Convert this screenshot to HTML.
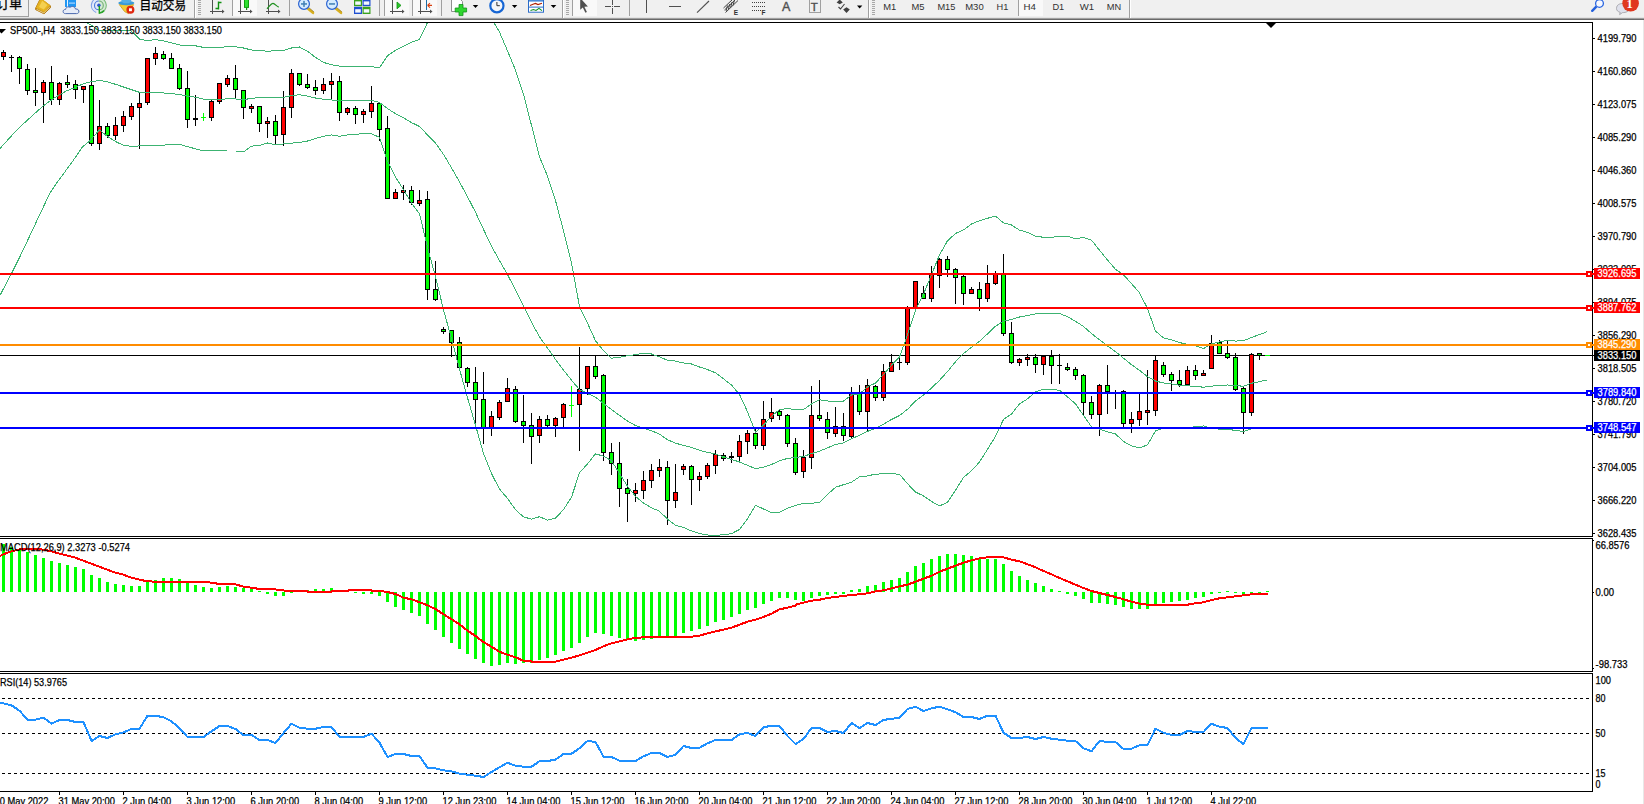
<!DOCTYPE html>
<html><head><meta charset="utf-8"><title>SP500 H4</title>
<style>html,body{margin:0;padding:0;background:#fff;overflow:hidden}svg{display:block}text{white-space:pre}</style></head><body>
<svg width="1644" height="804" viewBox="0 0 1644 804">
<rect x="0" y="0" width="1644" height="804" fill="#fff"/>
<rect x="0" y="355" width="1594" height="1" fill="#000" shape-rendering="crispEdges"/>
<g shape-rendering="crispEdges">
<rect x="3" y="50" width="1" height="10" fill="#000"/>
<rect x="1" y="52" width="5" height="5" fill="#000"/>
<rect x="2" y="53" width="3" height="3" fill="#ff0000"/>
<rect x="11" y="55" width="1" height="17" fill="#000"/>
<rect x="9" y="57" width="5" height="1" fill="#000"/>
<rect x="19" y="56" width="1" height="28" fill="#000"/>
<rect x="17" y="57" width="5" height="12" fill="#000"/>
<rect x="18" y="58" width="3" height="10" fill="#00ff00"/>
<rect x="27" y="64" width="1" height="31" fill="#000"/>
<rect x="25" y="69" width="5" height="22" fill="#000"/>
<rect x="26" y="70" width="3" height="20" fill="#00ff00"/>
<rect x="35" y="68" width="1" height="38" fill="#000"/>
<rect x="33" y="90" width="5" height="3" fill="#000"/>
<rect x="34" y="91" width="3" height="1" fill="#00ff00"/>
<rect x="43" y="80" width="1" height="43" fill="#000"/>
<rect x="41" y="82" width="5" height="11" fill="#000"/>
<rect x="42" y="83" width="3" height="9" fill="#ff0000"/>
<rect x="51" y="66" width="1" height="39" fill="#000"/>
<rect x="49" y="82" width="5" height="18" fill="#000"/>
<rect x="50" y="83" width="3" height="16" fill="#00ff00"/>
<rect x="59" y="82" width="1" height="23" fill="#000"/>
<rect x="57" y="83" width="5" height="17" fill="#000"/>
<rect x="58" y="84" width="3" height="15" fill="#ff0000"/>
<rect x="67" y="75" width="1" height="13" fill="#000"/>
<rect x="65" y="82" width="5" height="3" fill="#000"/>
<rect x="66" y="83" width="3" height="1" fill="#00ff00"/>
<rect x="75" y="80" width="1" height="19" fill="#000"/>
<rect x="73" y="84" width="5" height="6" fill="#000"/>
<rect x="74" y="85" width="3" height="4" fill="#00ff00"/>
<rect x="83" y="86" width="1" height="17" fill="#000"/>
<rect x="81" y="86" width="5" height="4" fill="#000"/>
<rect x="82" y="87" width="3" height="2" fill="#ff0000"/>
<rect x="91" y="68" width="1" height="78" fill="#000"/>
<rect x="89" y="85" width="5" height="59" fill="#000"/>
<rect x="90" y="86" width="3" height="57" fill="#00ff00"/>
<rect x="99" y="100" width="1" height="50" fill="#000"/>
<rect x="97" y="126" width="5" height="18" fill="#000"/>
<rect x="98" y="127" width="3" height="16" fill="#ff0000"/>
<rect x="107" y="123" width="1" height="15" fill="#000"/>
<rect x="105" y="126" width="5" height="10" fill="#000"/>
<rect x="106" y="127" width="3" height="8" fill="#00ff00"/>
<rect x="115" y="117" width="1" height="23" fill="#000"/>
<rect x="113" y="125" width="5" height="11" fill="#000"/>
<rect x="114" y="126" width="3" height="9" fill="#ff0000"/>
<rect x="123" y="111" width="1" height="21" fill="#000"/>
<rect x="121" y="116" width="5" height="10" fill="#000"/>
<rect x="122" y="117" width="3" height="8" fill="#ff0000"/>
<rect x="131" y="103" width="1" height="17" fill="#000"/>
<rect x="129" y="106" width="5" height="11" fill="#000"/>
<rect x="130" y="107" width="3" height="9" fill="#ff0000"/>
<rect x="139" y="93" width="1" height="56" fill="#000"/>
<rect x="137" y="103" width="5" height="5" fill="#000"/>
<rect x="138" y="104" width="3" height="3" fill="#ff0000"/>
<rect x="147" y="58" width="1" height="47" fill="#000"/>
<rect x="145" y="58" width="5" height="45" fill="#000"/>
<rect x="146" y="59" width="3" height="43" fill="#ff0000"/>
<rect x="155" y="47" width="1" height="18" fill="#000"/>
<rect x="153" y="53" width="5" height="6" fill="#000"/>
<rect x="154" y="54" width="3" height="4" fill="#ff0000"/>
<rect x="163" y="51" width="1" height="9" fill="#000"/>
<rect x="161" y="54" width="5" height="5" fill="#000"/>
<rect x="162" y="55" width="3" height="3" fill="#00ff00"/>
<rect x="171" y="53" width="1" height="16" fill="#000"/>
<rect x="169" y="58" width="5" height="11" fill="#000"/>
<rect x="170" y="59" width="3" height="9" fill="#00ff00"/>
<rect x="179" y="64" width="1" height="26" fill="#000"/>
<rect x="177" y="68" width="5" height="21" fill="#000"/>
<rect x="178" y="69" width="3" height="19" fill="#00ff00"/>
<rect x="187" y="71" width="1" height="57" fill="#000"/>
<rect x="185" y="88" width="5" height="32" fill="#000"/>
<rect x="186" y="89" width="3" height="30" fill="#00ff00"/>
<rect x="195" y="95" width="1" height="31" fill="#000"/>
<rect x="193" y="118" width="5" height="2" fill="#000"/>
<rect x="203" y="113" width="1" height="8" fill="#00ff00"/>
<rect x="201" y="117" width="5" height="1" fill="#00ff00"/>
<rect x="211" y="100" width="1" height="21" fill="#000"/>
<rect x="209" y="101" width="5" height="17" fill="#000"/>
<rect x="210" y="102" width="3" height="15" fill="#ff0000"/>
<rect x="219" y="83" width="1" height="21" fill="#000"/>
<rect x="217" y="83" width="5" height="19" fill="#000"/>
<rect x="218" y="84" width="3" height="17" fill="#ff0000"/>
<rect x="227" y="75" width="1" height="12" fill="#000"/>
<rect x="225" y="78" width="5" height="7" fill="#000"/>
<rect x="226" y="79" width="3" height="5" fill="#ff0000"/>
<rect x="235" y="65" width="1" height="34" fill="#000"/>
<rect x="233" y="78" width="5" height="12" fill="#000"/>
<rect x="234" y="79" width="3" height="10" fill="#00ff00"/>
<rect x="243" y="90" width="1" height="29" fill="#000"/>
<rect x="241" y="90" width="5" height="18" fill="#000"/>
<rect x="242" y="91" width="3" height="16" fill="#00ff00"/>
<rect x="251" y="104" width="1" height="9" fill="#000"/>
<rect x="249" y="106" width="5" height="3" fill="#000"/>
<rect x="250" y="107" width="3" height="1" fill="#ff0000"/>
<rect x="259" y="106" width="1" height="26" fill="#000"/>
<rect x="257" y="106" width="5" height="18" fill="#000"/>
<rect x="258" y="107" width="3" height="16" fill="#00ff00"/>
<rect x="267" y="117" width="1" height="21" fill="#000"/>
<rect x="265" y="121" width="5" height="3" fill="#000"/>
<rect x="266" y="122" width="3" height="1" fill="#ff0000"/>
<rect x="275" y="115" width="1" height="29" fill="#000"/>
<rect x="273" y="121" width="5" height="15" fill="#000"/>
<rect x="274" y="122" width="3" height="13" fill="#00ff00"/>
<rect x="283" y="91" width="1" height="55" fill="#000"/>
<rect x="281" y="107" width="5" height="28" fill="#000"/>
<rect x="282" y="108" width="3" height="26" fill="#ff0000"/>
<rect x="291" y="69" width="1" height="49" fill="#000"/>
<rect x="289" y="73" width="5" height="35" fill="#000"/>
<rect x="290" y="74" width="3" height="33" fill="#ff0000"/>
<rect x="299" y="73" width="1" height="13" fill="#000"/>
<rect x="297" y="73" width="5" height="12" fill="#000"/>
<rect x="298" y="74" width="3" height="10" fill="#00ff00"/>
<rect x="307" y="74" width="1" height="15" fill="#000"/>
<rect x="305" y="84" width="5" height="4" fill="#000"/>
<rect x="306" y="85" width="3" height="2" fill="#00ff00"/>
<rect x="315" y="80" width="1" height="15" fill="#000"/>
<rect x="313" y="87" width="5" height="4" fill="#000"/>
<rect x="314" y="88" width="3" height="2" fill="#00ff00"/>
<rect x="323" y="78" width="1" height="16" fill="#000"/>
<rect x="321" y="84" width="5" height="7" fill="#000"/>
<rect x="322" y="85" width="3" height="5" fill="#ff0000"/>
<rect x="331" y="73" width="1" height="27" fill="#000"/>
<rect x="329" y="81" width="5" height="4" fill="#000"/>
<rect x="330" y="82" width="3" height="2" fill="#ff0000"/>
<rect x="339" y="76" width="1" height="45" fill="#000"/>
<rect x="337" y="81" width="5" height="32" fill="#000"/>
<rect x="338" y="82" width="3" height="30" fill="#00ff00"/>
<rect x="347" y="107" width="1" height="8" fill="#000"/>
<rect x="345" y="108" width="5" height="5" fill="#000"/>
<rect x="346" y="109" width="3" height="3" fill="#ff0000"/>
<rect x="355" y="106" width="1" height="18" fill="#000"/>
<rect x="353" y="108" width="5" height="7" fill="#000"/>
<rect x="354" y="109" width="3" height="5" fill="#00ff00"/>
<rect x="363" y="109" width="1" height="14" fill="#000"/>
<rect x="361" y="111" width="5" height="4" fill="#000"/>
<rect x="362" y="112" width="3" height="2" fill="#ff0000"/>
<rect x="371" y="86" width="1" height="32" fill="#000"/>
<rect x="369" y="103" width="5" height="9" fill="#000"/>
<rect x="370" y="104" width="3" height="7" fill="#ff0000"/>
<rect x="379" y="102" width="1" height="39" fill="#000"/>
<rect x="377" y="103" width="5" height="27" fill="#000"/>
<rect x="378" y="104" width="3" height="25" fill="#00ff00"/>
<rect x="387" y="116" width="1" height="82" fill="#000"/>
<rect x="385" y="128" width="5" height="71" fill="#000"/>
<rect x="386" y="129" width="3" height="69" fill="#00ff00"/>
<rect x="395" y="189" width="1" height="9" fill="#000"/>
<rect x="393" y="192" width="5" height="7" fill="#000"/>
<rect x="394" y="193" width="3" height="5" fill="#ff0000"/>
<rect x="403" y="185" width="1" height="15" fill="#000"/>
<rect x="401" y="190" width="5" height="3" fill="#000"/>
<rect x="402" y="191" width="3" height="1" fill="#ff0000"/>
<rect x="411" y="186" width="1" height="19" fill="#000"/>
<rect x="409" y="190" width="5" height="13" fill="#000"/>
<rect x="410" y="191" width="3" height="11" fill="#00ff00"/>
<rect x="419" y="190" width="1" height="16" fill="#000"/>
<rect x="417" y="200" width="5" height="4" fill="#000"/>
<rect x="418" y="201" width="3" height="2" fill="#ff0000"/>
<rect x="427" y="191" width="1" height="109" fill="#000"/>
<rect x="425" y="199" width="5" height="91" fill="#000"/>
<rect x="426" y="200" width="3" height="89" fill="#00ff00"/>
<rect x="435" y="261" width="1" height="40" fill="#000"/>
<rect x="433" y="289" width="5" height="11" fill="#000"/>
<rect x="434" y="290" width="3" height="9" fill="#00ff00"/>
<rect x="443" y="327" width="1" height="7" fill="#000"/>
<rect x="441" y="329" width="5" height="3" fill="#000"/>
<rect x="442" y="330" width="3" height="1" fill="#00ff00"/>
<rect x="451" y="330" width="1" height="27" fill="#000"/>
<rect x="449" y="330" width="5" height="13" fill="#000"/>
<rect x="450" y="331" width="3" height="11" fill="#00ff00"/>
<rect x="459" y="337" width="1" height="33" fill="#000"/>
<rect x="457" y="342" width="5" height="26" fill="#000"/>
<rect x="458" y="343" width="3" height="24" fill="#00ff00"/>
<rect x="467" y="367" width="1" height="20" fill="#000"/>
<rect x="465" y="368" width="5" height="15" fill="#000"/>
<rect x="466" y="369" width="3" height="13" fill="#00ff00"/>
<rect x="475" y="367" width="1" height="57" fill="#000"/>
<rect x="473" y="382" width="5" height="18" fill="#000"/>
<rect x="474" y="383" width="3" height="16" fill="#00ff00"/>
<rect x="483" y="372" width="1" height="72" fill="#000"/>
<rect x="481" y="399" width="5" height="30" fill="#000"/>
<rect x="482" y="400" width="3" height="28" fill="#00ff00"/>
<rect x="491" y="411" width="1" height="25" fill="#000"/>
<rect x="489" y="416" width="5" height="12" fill="#000"/>
<rect x="490" y="417" width="3" height="10" fill="#ff0000"/>
<rect x="499" y="400" width="1" height="20" fill="#000"/>
<rect x="497" y="402" width="5" height="16" fill="#000"/>
<rect x="498" y="403" width="3" height="14" fill="#ff0000"/>
<rect x="507" y="378" width="1" height="23" fill="#000"/>
<rect x="505" y="388" width="5" height="14" fill="#000"/>
<rect x="506" y="389" width="3" height="12" fill="#ff0000"/>
<rect x="515" y="386" width="1" height="37" fill="#000"/>
<rect x="513" y="389" width="5" height="33" fill="#000"/>
<rect x="514" y="390" width="3" height="31" fill="#00ff00"/>
<rect x="523" y="395" width="1" height="48" fill="#000"/>
<rect x="521" y="421" width="5" height="5" fill="#000"/>
<rect x="522" y="422" width="3" height="3" fill="#00ff00"/>
<rect x="531" y="413" width="1" height="51" fill="#000"/>
<rect x="529" y="425" width="5" height="12" fill="#000"/>
<rect x="530" y="426" width="3" height="10" fill="#00ff00"/>
<rect x="539" y="416" width="1" height="27" fill="#000"/>
<rect x="537" y="419" width="5" height="17" fill="#000"/>
<rect x="538" y="420" width="3" height="15" fill="#ff0000"/>
<rect x="547" y="415" width="1" height="12" fill="#000"/>
<rect x="545" y="419" width="5" height="7" fill="#000"/>
<rect x="546" y="420" width="3" height="5" fill="#00ff00"/>
<rect x="555" y="417" width="1" height="20" fill="#000"/>
<rect x="553" y="418" width="5" height="8" fill="#000"/>
<rect x="554" y="419" width="3" height="6" fill="#ff0000"/>
<rect x="563" y="403" width="1" height="24" fill="#000"/>
<rect x="561" y="404" width="5" height="14" fill="#000"/>
<rect x="562" y="405" width="3" height="12" fill="#ff0000"/>
<rect x="571" y="386" width="1" height="31" fill="#00ff00"/>
<rect x="569" y="405" width="5" height="1" fill="#00ff00"/>
<rect x="579" y="347" width="1" height="104" fill="#000"/>
<rect x="577" y="389" width="5" height="16" fill="#000"/>
<rect x="578" y="390" width="3" height="14" fill="#ff0000"/>
<rect x="587" y="366" width="1" height="29" fill="#000"/>
<rect x="585" y="366" width="5" height="23" fill="#000"/>
<rect x="586" y="367" width="3" height="21" fill="#ff0000"/>
<rect x="595" y="355" width="1" height="24" fill="#000"/>
<rect x="593" y="366" width="5" height="11" fill="#000"/>
<rect x="594" y="367" width="3" height="9" fill="#00ff00"/>
<rect x="603" y="374" width="1" height="87" fill="#000"/>
<rect x="601" y="375" width="5" height="78" fill="#000"/>
<rect x="602" y="376" width="3" height="76" fill="#00ff00"/>
<rect x="611" y="443" width="1" height="32" fill="#000"/>
<rect x="609" y="452" width="5" height="12" fill="#000"/>
<rect x="610" y="453" width="3" height="10" fill="#00ff00"/>
<rect x="619" y="442" width="1" height="65" fill="#000"/>
<rect x="617" y="463" width="5" height="26" fill="#000"/>
<rect x="618" y="464" width="3" height="24" fill="#00ff00"/>
<rect x="627" y="479" width="1" height="43" fill="#000"/>
<rect x="625" y="488" width="5" height="6" fill="#000"/>
<rect x="626" y="489" width="3" height="4" fill="#00ff00"/>
<rect x="635" y="483" width="1" height="19" fill="#000"/>
<rect x="633" y="490" width="5" height="4" fill="#000"/>
<rect x="634" y="491" width="3" height="2" fill="#ff0000"/>
<rect x="643" y="471" width="1" height="28" fill="#000"/>
<rect x="641" y="480" width="5" height="11" fill="#000"/>
<rect x="642" y="481" width="3" height="9" fill="#ff0000"/>
<rect x="651" y="464" width="1" height="24" fill="#000"/>
<rect x="649" y="470" width="5" height="11" fill="#000"/>
<rect x="650" y="471" width="3" height="9" fill="#ff0000"/>
<rect x="659" y="459" width="1" height="18" fill="#000"/>
<rect x="657" y="467" width="5" height="4" fill="#000"/>
<rect x="658" y="468" width="3" height="2" fill="#ff0000"/>
<rect x="667" y="461" width="1" height="64" fill="#000"/>
<rect x="665" y="467" width="5" height="34" fill="#000"/>
<rect x="666" y="468" width="3" height="32" fill="#00ff00"/>
<rect x="675" y="464" width="1" height="44" fill="#000"/>
<rect x="673" y="492" width="5" height="9" fill="#000"/>
<rect x="674" y="493" width="3" height="7" fill="#ff0000"/>
<rect x="683" y="464" width="1" height="11" fill="#000"/>
<rect x="681" y="466" width="5" height="4" fill="#000"/>
<rect x="682" y="467" width="3" height="2" fill="#ff0000"/>
<rect x="691" y="465" width="1" height="40" fill="#000"/>
<rect x="689" y="466" width="5" height="14" fill="#000"/>
<rect x="690" y="467" width="3" height="12" fill="#00ff00"/>
<rect x="699" y="472" width="1" height="19" fill="#000"/>
<rect x="697" y="476" width="5" height="4" fill="#000"/>
<rect x="698" y="477" width="3" height="2" fill="#ff0000"/>
<rect x="707" y="463" width="1" height="16" fill="#000"/>
<rect x="705" y="465" width="5" height="12" fill="#000"/>
<rect x="706" y="466" width="3" height="10" fill="#ff0000"/>
<rect x="715" y="450" width="1" height="24" fill="#000"/>
<rect x="713" y="454" width="5" height="12" fill="#000"/>
<rect x="714" y="455" width="3" height="10" fill="#ff0000"/>
<rect x="723" y="453" width="1" height="8" fill="#000"/>
<rect x="721" y="455" width="5" height="4" fill="#000"/>
<rect x="722" y="456" width="3" height="2" fill="#00ff00"/>
<rect x="731" y="452" width="1" height="11" fill="#000"/>
<rect x="729" y="456" width="5" height="2" fill="#000"/>
<rect x="739" y="435" width="1" height="26" fill="#000"/>
<rect x="737" y="441" width="5" height="16" fill="#000"/>
<rect x="738" y="442" width="3" height="14" fill="#ff0000"/>
<rect x="747" y="430" width="1" height="24" fill="#000"/>
<rect x="745" y="433" width="5" height="9" fill="#000"/>
<rect x="746" y="434" width="3" height="7" fill="#ff0000"/>
<rect x="755" y="429" width="1" height="20" fill="#000"/>
<rect x="753" y="433" width="5" height="13" fill="#000"/>
<rect x="754" y="434" width="3" height="11" fill="#00ff00"/>
<rect x="763" y="401" width="1" height="49" fill="#000"/>
<rect x="761" y="419" width="5" height="27" fill="#000"/>
<rect x="762" y="420" width="3" height="25" fill="#ff0000"/>
<rect x="771" y="398" width="1" height="24" fill="#000"/>
<rect x="769" y="412" width="5" height="7" fill="#000"/>
<rect x="770" y="413" width="3" height="5" fill="#ff0000"/>
<rect x="779" y="410" width="1" height="10" fill="#000"/>
<rect x="777" y="411" width="5" height="5" fill="#000"/>
<rect x="778" y="412" width="3" height="3" fill="#00ff00"/>
<rect x="787" y="414" width="1" height="33" fill="#000"/>
<rect x="785" y="415" width="5" height="29" fill="#000"/>
<rect x="786" y="416" width="3" height="27" fill="#00ff00"/>
<rect x="795" y="438" width="1" height="37" fill="#000"/>
<rect x="793" y="443" width="5" height="30" fill="#000"/>
<rect x="794" y="444" width="3" height="28" fill="#00ff00"/>
<rect x="803" y="450" width="1" height="28" fill="#000"/>
<rect x="801" y="457" width="5" height="15" fill="#000"/>
<rect x="802" y="458" width="3" height="13" fill="#ff0000"/>
<rect x="811" y="386" width="1" height="83" fill="#000"/>
<rect x="809" y="415" width="5" height="43" fill="#000"/>
<rect x="810" y="416" width="3" height="41" fill="#ff0000"/>
<rect x="819" y="380" width="1" height="41" fill="#000"/>
<rect x="817" y="415" width="5" height="4" fill="#000"/>
<rect x="818" y="416" width="3" height="2" fill="#00ff00"/>
<rect x="827" y="412" width="1" height="27" fill="#000"/>
<rect x="825" y="419" width="5" height="14" fill="#000"/>
<rect x="826" y="420" width="3" height="12" fill="#00ff00"/>
<rect x="835" y="407" width="1" height="30" fill="#000"/>
<rect x="833" y="426" width="5" height="8" fill="#000"/>
<rect x="834" y="427" width="3" height="6" fill="#ff0000"/>
<rect x="843" y="413" width="1" height="28" fill="#000"/>
<rect x="841" y="426" width="5" height="10" fill="#000"/>
<rect x="842" y="427" width="3" height="8" fill="#00ff00"/>
<rect x="851" y="387" width="1" height="51" fill="#000"/>
<rect x="849" y="393" width="5" height="44" fill="#000"/>
<rect x="850" y="394" width="3" height="42" fill="#ff0000"/>
<rect x="859" y="385" width="1" height="30" fill="#000"/>
<rect x="857" y="393" width="5" height="19" fill="#000"/>
<rect x="858" y="394" width="3" height="17" fill="#00ff00"/>
<rect x="867" y="379" width="1" height="52" fill="#000"/>
<rect x="865" y="385" width="5" height="27" fill="#000"/>
<rect x="866" y="386" width="3" height="25" fill="#ff0000"/>
<rect x="875" y="385" width="1" height="16" fill="#000"/>
<rect x="873" y="386" width="5" height="12" fill="#000"/>
<rect x="874" y="387" width="3" height="10" fill="#00ff00"/>
<rect x="883" y="364" width="1" height="37" fill="#000"/>
<rect x="881" y="371" width="5" height="27" fill="#000"/>
<rect x="882" y="372" width="3" height="25" fill="#ff0000"/>
<rect x="891" y="354" width="1" height="18" fill="#000"/>
<rect x="889" y="362" width="5" height="10" fill="#000"/>
<rect x="890" y="363" width="3" height="8" fill="#ff0000"/>
<rect x="899" y="357" width="1" height="13" fill="#000"/>
<rect x="897" y="362" width="5" height="1" fill="#000"/>
<rect x="907" y="306" width="1" height="59" fill="#000"/>
<rect x="905" y="308" width="5" height="55" fill="#000"/>
<rect x="906" y="309" width="3" height="53" fill="#ff0000"/>
<rect x="915" y="281" width="1" height="31" fill="#000"/>
<rect x="913" y="281" width="5" height="27" fill="#000"/>
<rect x="914" y="282" width="3" height="25" fill="#ff0000"/>
<rect x="923" y="286" width="1" height="12" fill="#000"/>
<rect x="921" y="293" width="5" height="6" fill="#000"/>
<rect x="922" y="294" width="3" height="4" fill="#00ff00"/>
<rect x="931" y="266" width="1" height="36" fill="#000"/>
<rect x="929" y="274" width="5" height="25" fill="#000"/>
<rect x="930" y="275" width="3" height="23" fill="#ff0000"/>
<rect x="939" y="258" width="1" height="30" fill="#000"/>
<rect x="937" y="259" width="5" height="17" fill="#000"/>
<rect x="938" y="260" width="3" height="15" fill="#ff0000"/>
<rect x="947" y="256" width="1" height="21" fill="#000"/>
<rect x="945" y="259" width="5" height="11" fill="#000"/>
<rect x="946" y="260" width="3" height="9" fill="#00ff00"/>
<rect x="955" y="268" width="1" height="36" fill="#000"/>
<rect x="953" y="269" width="5" height="9" fill="#000"/>
<rect x="954" y="270" width="3" height="7" fill="#00ff00"/>
<rect x="963" y="275" width="1" height="30" fill="#000"/>
<rect x="961" y="276" width="5" height="18" fill="#000"/>
<rect x="962" y="277" width="3" height="16" fill="#00ff00"/>
<rect x="971" y="287" width="1" height="6" fill="#000"/>
<rect x="969" y="289" width="5" height="5" fill="#000"/>
<rect x="970" y="290" width="3" height="3" fill="#ff0000"/>
<rect x="979" y="282" width="1" height="29" fill="#000"/>
<rect x="977" y="289" width="5" height="10" fill="#000"/>
<rect x="978" y="290" width="3" height="8" fill="#00ff00"/>
<rect x="987" y="265" width="1" height="37" fill="#000"/>
<rect x="985" y="283" width="5" height="16" fill="#000"/>
<rect x="986" y="284" width="3" height="14" fill="#ff0000"/>
<rect x="995" y="271" width="1" height="14" fill="#000"/>
<rect x="993" y="273" width="5" height="11" fill="#000"/>
<rect x="994" y="274" width="3" height="9" fill="#ff0000"/>
<rect x="1003" y="254" width="1" height="82" fill="#000"/>
<rect x="1001" y="274" width="5" height="60" fill="#000"/>
<rect x="1002" y="275" width="3" height="58" fill="#00ff00"/>
<rect x="1011" y="322" width="1" height="42" fill="#000"/>
<rect x="1009" y="333" width="5" height="30" fill="#000"/>
<rect x="1010" y="334" width="3" height="28" fill="#00ff00"/>
<rect x="1019" y="358" width="1" height="8" fill="#000"/>
<rect x="1017" y="359" width="5" height="4" fill="#000"/>
<rect x="1018" y="360" width="3" height="2" fill="#ff0000"/>
<rect x="1027" y="354" width="1" height="12" fill="#000"/>
<rect x="1025" y="357" width="5" height="3" fill="#000"/>
<rect x="1026" y="358" width="3" height="1" fill="#ff0000"/>
<rect x="1035" y="354" width="1" height="19" fill="#000"/>
<rect x="1033" y="357" width="5" height="8" fill="#000"/>
<rect x="1034" y="358" width="3" height="6" fill="#00ff00"/>
<rect x="1043" y="356" width="1" height="19" fill="#000"/>
<rect x="1041" y="356" width="5" height="9" fill="#000"/>
<rect x="1042" y="357" width="3" height="7" fill="#ff0000"/>
<rect x="1051" y="350" width="1" height="34" fill="#000"/>
<rect x="1049" y="356" width="5" height="10" fill="#000"/>
<rect x="1050" y="357" width="3" height="8" fill="#00ff00"/>
<rect x="1059" y="354" width="1" height="30" fill="#000"/>
<rect x="1057" y="365" width="5" height="1" fill="#000"/>
<rect x="1067" y="363" width="1" height="8" fill="#000"/>
<rect x="1065" y="367" width="5" height="3" fill="#000"/>
<rect x="1066" y="368" width="3" height="1" fill="#00ff00"/>
<rect x="1075" y="367" width="1" height="13" fill="#000"/>
<rect x="1073" y="369" width="5" height="7" fill="#000"/>
<rect x="1074" y="370" width="3" height="5" fill="#00ff00"/>
<rect x="1083" y="374" width="1" height="41" fill="#000"/>
<rect x="1081" y="375" width="5" height="28" fill="#000"/>
<rect x="1082" y="376" width="3" height="26" fill="#00ff00"/>
<rect x="1091" y="396" width="1" height="23" fill="#000"/>
<rect x="1089" y="402" width="5" height="13" fill="#000"/>
<rect x="1090" y="403" width="3" height="11" fill="#00ff00"/>
<rect x="1099" y="384" width="1" height="52" fill="#000"/>
<rect x="1097" y="385" width="5" height="30" fill="#000"/>
<rect x="1098" y="386" width="3" height="28" fill="#ff0000"/>
<rect x="1107" y="365" width="1" height="49" fill="#000"/>
<rect x="1105" y="385" width="5" height="7" fill="#000"/>
<rect x="1106" y="386" width="3" height="5" fill="#00ff00"/>
<rect x="1115" y="390" width="1" height="19" fill="#000"/>
<rect x="1113" y="393" width="5" height="1" fill="#000"/>
<rect x="1123" y="390" width="1" height="37" fill="#000"/>
<rect x="1121" y="391" width="5" height="33" fill="#000"/>
<rect x="1122" y="392" width="3" height="31" fill="#00ff00"/>
<rect x="1131" y="412" width="1" height="21" fill="#000"/>
<rect x="1129" y="419" width="5" height="5" fill="#000"/>
<rect x="1130" y="420" width="3" height="3" fill="#ff0000"/>
<rect x="1139" y="394" width="1" height="32" fill="#000"/>
<rect x="1137" y="411" width="5" height="9" fill="#000"/>
<rect x="1138" y="412" width="3" height="7" fill="#ff0000"/>
<rect x="1147" y="370" width="1" height="55" fill="#000"/>
<rect x="1145" y="410" width="5" height="3" fill="#000"/>
<rect x="1146" y="411" width="3" height="1" fill="#ff0000"/>
<rect x="1155" y="356" width="1" height="60" fill="#000"/>
<rect x="1153" y="360" width="5" height="51" fill="#000"/>
<rect x="1154" y="361" width="3" height="49" fill="#ff0000"/>
<rect x="1163" y="362" width="1" height="15" fill="#000"/>
<rect x="1161" y="365" width="5" height="10" fill="#000"/>
<rect x="1162" y="366" width="3" height="8" fill="#00ff00"/>
<rect x="1171" y="372" width="1" height="19" fill="#000"/>
<rect x="1169" y="374" width="5" height="7" fill="#000"/>
<rect x="1170" y="375" width="3" height="5" fill="#00ff00"/>
<rect x="1179" y="370" width="1" height="17" fill="#000"/>
<rect x="1177" y="380" width="5" height="5" fill="#000"/>
<rect x="1178" y="381" width="3" height="3" fill="#00ff00"/>
<rect x="1187" y="366" width="1" height="20" fill="#000"/>
<rect x="1185" y="370" width="5" height="15" fill="#000"/>
<rect x="1186" y="371" width="3" height="13" fill="#ff0000"/>
<rect x="1195" y="365" width="1" height="15" fill="#000"/>
<rect x="1193" y="370" width="5" height="6" fill="#000"/>
<rect x="1194" y="371" width="3" height="4" fill="#00ff00"/>
<rect x="1203" y="370" width="1" height="5" fill="#000"/>
<rect x="1201" y="373" width="5" height="3" fill="#000"/>
<rect x="1202" y="374" width="3" height="1" fill="#ff0000"/>
<rect x="1211" y="335" width="1" height="34" fill="#000"/>
<rect x="1209" y="343" width="5" height="26" fill="#000"/>
<rect x="1210" y="344" width="3" height="24" fill="#ff0000"/>
<rect x="1219" y="340" width="1" height="13" fill="#000"/>
<rect x="1217" y="342" width="5" height="12" fill="#000"/>
<rect x="1218" y="343" width="3" height="10" fill="#00ff00"/>
<rect x="1227" y="341" width="1" height="18" fill="#000"/>
<rect x="1225" y="353" width="5" height="5" fill="#000"/>
<rect x="1226" y="354" width="3" height="3" fill="#00ff00"/>
<rect x="1235" y="353" width="1" height="38" fill="#000"/>
<rect x="1233" y="357" width="5" height="33" fill="#000"/>
<rect x="1234" y="358" width="3" height="31" fill="#00ff00"/>
<rect x="1243" y="387" width="1" height="47" fill="#000"/>
<rect x="1241" y="388" width="5" height="25" fill="#000"/>
<rect x="1242" y="389" width="3" height="23" fill="#00ff00"/>
<rect x="1251" y="353" width="1" height="63" fill="#000"/>
<rect x="1249" y="354" width="5" height="59" fill="#000"/>
<rect x="1250" y="355" width="3" height="57" fill="#ff0000"/>
<rect x="1259" y="353" width="1" height="7" fill="#000"/>
<rect x="1257" y="353" width="5" height="3" fill="#000"/>
<rect x="1258" y="354" width="3" height="1" fill="#00ff00"/>
</g>
<clipPath id="cc"><rect x="0" y="23" width="1592" height="513"/></clipPath>
<g clip-path="url(#cc)" fill="none" stroke="#3cb371" stroke-width="1" shape-rendering="crispEdges">
<polyline points="84.0,19.0 87.5,23.0 93.3,26.5 99.0,31.0 115.0,30.5 131.0,31.0 135.5,35.0 140.0,39.4 147.0,40.5 155.5,39.6 163.5,40.9 171.5,42.8 179.5,45.0 187.5,45.4 195.5,45.8 203.5,47.4 211.5,47.4 219.5,47.4 227.5,46.7 235.5,46.8 243.5,48.0 251.5,50.0 259.5,50.2 267.5,51.4 275.5,50.5 283.5,50.6 291.5,48.0 299.5,47.0 307.5,51.3 315.5,57.4 323.5,62.4 331.5,64.8 339.5,66.1 347.5,66.3 355.5,66.5 363.5,66.7 371.5,66.7 379.5,67.7 387.5,55.7 395.5,50.3 403.5,46.2 411.5,42.3 419.5,39.3 427.5,22.5 435.5,9.7 443.5,-1.0 451.5,-3.0 459.5,-5.1 467.5,-4.2 475.5,-0.8 483.5,5.2 491.5,18.6 499.5,32.1 507.5,50.8 515.5,70.2 523.5,94.4 531.5,125.4 539.5,156.8 547.5,176.1 555.5,200.6 563.5,230.6 571.5,263.2 579.5,306.5 587.5,323.1 595.5,340.8 603.5,350.6 611.5,358.2 619.5,357.3 627.5,355.8 635.5,354.6 643.5,353.3 651.5,354.0 659.5,356.8 667.5,360.3 675.5,361.1 683.5,363.0 691.5,364.0 699.5,367.0 707.5,369.6 715.5,372.8 723.5,378.8 731.5,385.1 739.5,394.4 747.5,411.7 755.5,432.2 763.5,425.2 771.5,416.3 779.5,409.5 787.5,408.7 795.5,409.5 803.5,409.6 811.5,404.0 819.5,399.7 827.5,401.0 835.5,401.6 843.5,401.1 851.5,395.0 859.5,393.9 867.5,386.9 875.5,383.0 883.5,374.5 891.5,365.2 899.5,356.9 907.5,334.9 915.5,310.1 923.5,294.1 931.5,274.8 939.5,254.8 947.5,240.8 955.5,233.5 963.5,229.9 971.5,223.9 979.5,220.7 987.5,218.3 995.5,216.1 1003.5,222.9 1011.5,225.0 1019.5,230.1 1027.5,232.3 1035.5,236.1 1043.5,237.3 1051.5,237.1 1059.5,236.8 1067.5,236.2 1075.5,238.7 1083.5,237.5 1091.5,240.1 1099.5,250.3 1107.5,259.9 1115.5,269.4 1123.5,274.8 1131.5,283.6 1139.5,292.8 1147.5,308.5 1155.5,331.1 1163.5,337.9 1171.5,339.8 1179.5,342.5 1187.5,344.5 1195.5,345.9 1203.5,348.6 1211.5,344.0 1219.5,341.9 1227.5,340.2 1235.5,341.1 1243.5,340.6 1251.5,337.5 1259.5,334.5 1267.5,331.6"/>
<polyline points="0.0,148.5 12.4,134.8 24.9,122.4 37.3,111.2 43.3,105.8 55.0,97.5 66.7,90.8 75.0,87.5 83.3,83.7 91.7,81.7 100.0,80.3 108.3,82.0 116.7,84.7 130.0,89.2 140.0,92.5 150.0,93.0 155.5,92.7 163.5,93.0 171.5,93.6 179.5,94.6 187.5,96.1 195.5,97.3 203.5,99.1 211.5,99.2 219.5,99.2 227.5,98.9 235.5,98.9 243.5,99.9 251.5,98.1 259.5,97.9 267.5,97.2 275.5,97.7 283.5,97.3 291.5,95.6 299.5,94.7 307.5,96.1 315.5,98.0 323.5,99.3 331.5,99.9 339.5,101.1 347.5,100.6 355.5,100.4 363.5,100.1 371.5,100.2 379.5,102.5 387.5,108.5 395.5,113.7 403.5,117.8 411.5,122.6 419.5,126.5 427.5,134.9 435.5,143.1 443.5,154.4 451.5,167.8 459.5,182.0 467.5,196.7 475.5,212.2 483.5,229.4 491.5,246.1 499.5,260.6 507.5,274.6 515.5,289.9 523.5,305.6 531.5,322.3 539.5,336.8 547.5,348.1 555.5,359.4 563.5,370.1 571.5,380.2 579.5,389.6 587.5,393.5 595.5,397.3 603.5,403.4 611.5,409.4 619.5,415.4 627.5,421.0 635.5,425.5 643.5,428.1 651.5,430.8 659.5,434.1 667.5,439.7 675.5,443.2 683.5,445.3 691.5,447.4 699.5,450.3 707.5,452.3 715.5,454.1 723.5,456.8 731.5,459.4 739.5,462.0 747.5,465.3 755.5,468.7 763.5,467.1 771.5,464.5 779.5,460.9 787.5,458.4 795.5,457.5 803.5,456.4 811.5,453.6 819.5,451.2 827.5,447.8 835.5,444.5 843.5,442.9 851.5,438.6 859.5,435.4 867.5,431.4 875.5,428.5 883.5,424.2 891.5,419.5 899.5,415.5 907.5,409.3 915.5,401.1 923.5,395.0 931.5,388.1 939.5,380.3 947.5,371.6 955.5,361.8 963.5,353.6 971.5,347.3 979.5,341.3 987.5,333.9 995.5,326.2 1003.5,321.1 1011.5,319.6 1019.5,317.0 1027.5,315.6 1035.5,313.9 1043.5,313.2 1051.5,313.3 1059.5,313.5 1067.5,316.6 1075.5,321.3 1083.5,326.5 1091.5,333.5 1099.5,339.8 1107.5,345.9 1115.5,351.7 1123.5,358.2 1131.5,364.7 1139.5,370.3 1147.5,376.7 1155.5,381.0 1163.5,383.0 1171.5,383.9 1179.5,385.2 1187.5,385.8 1195.5,386.4 1203.5,387.2 1211.5,386.1 1219.5,385.5 1227.5,385.0 1235.5,385.7 1243.5,386.2 1251.5,383.2 1259.5,381.7 1267.5,379.8"/>
<polyline points="0.0,295.3 11.2,274.1 19.9,256.7 29.9,235.6 39.8,214.4 49.8,193.3 57.2,182.1 64.7,172.1 74.6,158.5 82.1,147.3 89.6,141.0 99.5,129.9 107.0,136.1 116.9,142.3 124.4,145.5 131.8,146.3 149.3,145.5 155.5,145.8 163.5,145.2 171.5,144.4 179.5,144.2 187.5,146.7 195.5,148.8 203.5,150.8 211.5,150.9 219.5,150.9 227.5,151.0 235.5,151.0 243.5,151.9 251.5,146.1 259.5,145.6 267.5,143.0 275.5,144.9 283.5,143.9 291.5,143.2 299.5,142.4 307.5,141.0 315.5,138.5 323.5,136.2 331.5,135.0 339.5,136.2 347.5,134.9 355.5,134.4 363.5,133.6 371.5,133.7 379.5,137.4 387.5,161.4 395.5,177.1 403.5,189.5 411.5,203.0 419.5,213.7 427.5,247.4 435.5,276.6 443.5,309.8 451.5,338.7 459.5,369.1 467.5,397.7 475.5,425.2 483.5,453.6 491.5,473.6 499.5,489.1 507.5,498.4 515.5,509.7 523.5,516.9 531.5,519.1 539.5,516.7 547.5,520.2 555.5,518.2 563.5,509.6 571.5,497.2 579.5,472.7 587.5,463.9 595.5,453.8 603.5,456.2 611.5,460.6 619.5,473.6 627.5,486.2 635.5,496.5 643.5,503.0 651.5,507.7 659.5,511.3 667.5,519.1 675.5,525.3 683.5,527.5 691.5,530.9 699.5,533.6 707.5,535.0 715.5,535.3 723.5,534.8 731.5,533.6 739.5,529.5 747.5,518.9 755.5,505.2 763.5,509.0 771.5,512.8 779.5,512.3 787.5,508.1 795.5,505.5 803.5,503.2 811.5,503.2 819.5,502.6 827.5,494.5 835.5,487.3 843.5,484.7 851.5,482.2 859.5,476.9 867.5,475.9 875.5,474.1 883.5,473.9 891.5,473.8 899.5,474.2 907.5,483.7 915.5,492.0 923.5,495.9 931.5,501.4 939.5,505.9 947.5,502.4 955.5,490.2 963.5,477.4 971.5,470.7 979.5,462.0 987.5,449.4 995.5,436.3 1003.5,419.4 1011.5,414.1 1019.5,403.8 1027.5,398.9 1035.5,391.8 1043.5,389.1 1051.5,389.6 1059.5,390.2 1067.5,396.9 1075.5,403.8 1083.5,415.4 1091.5,426.8 1099.5,429.2 1107.5,431.9 1115.5,433.9 1123.5,441.5 1131.5,445.8 1139.5,447.8 1147.5,444.9 1155.5,430.9 1163.5,428.2 1171.5,428.1 1179.5,427.9 1187.5,427.2 1195.5,426.9 1203.5,425.9 1211.5,428.3 1219.5,429.2 1227.5,429.7 1235.5,430.2 1243.5,431.7 1251.5,428.8 1259.5,428.8 1267.5,428.1"/>
</g>
<g shape-rendering="crispEdges">
<rect x="2" y="544" width="3" height="48" fill="#00ff00"/>
<rect x="10" y="547" width="3" height="45" fill="#00ff00"/>
<rect x="18" y="549" width="3" height="43" fill="#00ff00"/>
<rect x="26" y="552" width="3" height="40" fill="#00ff00"/>
<rect x="34" y="555" width="3" height="37" fill="#00ff00"/>
<rect x="42" y="558" width="3" height="34" fill="#00ff00"/>
<rect x="50" y="561" width="3" height="31" fill="#00ff00"/>
<rect x="58" y="563" width="3" height="29" fill="#00ff00"/>
<rect x="66" y="565" width="3" height="27" fill="#00ff00"/>
<rect x="74" y="567" width="3" height="25" fill="#00ff00"/>
<rect x="82" y="569" width="3" height="23" fill="#00ff00"/>
<rect x="90" y="575" width="3" height="17" fill="#00ff00"/>
<rect x="98" y="578" width="3" height="14" fill="#00ff00"/>
<rect x="106" y="582" width="3" height="10" fill="#00ff00"/>
<rect x="114" y="584" width="3" height="8" fill="#00ff00"/>
<rect x="122" y="585" width="3" height="7" fill="#00ff00"/>
<rect x="130" y="586" width="3" height="6" fill="#00ff00"/>
<rect x="138" y="586" width="3" height="6" fill="#00ff00"/>
<rect x="146" y="582" width="3" height="10" fill="#00ff00"/>
<rect x="154" y="580" width="3" height="12" fill="#00ff00"/>
<rect x="162" y="578" width="3" height="14" fill="#00ff00"/>
<rect x="170" y="578" width="3" height="14" fill="#00ff00"/>
<rect x="178" y="579" width="3" height="13" fill="#00ff00"/>
<rect x="186" y="583" width="3" height="9" fill="#00ff00"/>
<rect x="194" y="585" width="3" height="7" fill="#00ff00"/>
<rect x="202" y="587" width="3" height="5" fill="#00ff00"/>
<rect x="210" y="588" width="3" height="4" fill="#00ff00"/>
<rect x="218" y="587" width="3" height="5" fill="#00ff00"/>
<rect x="226" y="586" width="3" height="6" fill="#00ff00"/>
<rect x="234" y="587" width="3" height="5" fill="#00ff00"/>
<rect x="242" y="588" width="3" height="4" fill="#00ff00"/>
<rect x="250" y="589" width="3" height="3" fill="#00ff00"/>
<rect x="258" y="591" width="3" height="1" fill="#00ff00"/>
<rect x="266" y="592" width="3" height="2" fill="#00ff00"/>
<rect x="274" y="592" width="3" height="4" fill="#00ff00"/>
<rect x="282" y="592" width="3" height="4" fill="#00ff00"/>
<rect x="290" y="592" width="3" height="1" fill="#00ff00"/>
<rect x="298" y="591" width="3" height="1" fill="#00ff00"/>
<rect x="306" y="590" width="3" height="2" fill="#00ff00"/>
<rect x="314" y="589" width="3" height="3" fill="#00ff00"/>
<rect x="322" y="589" width="3" height="3" fill="#00ff00"/>
<rect x="330" y="588" width="3" height="4" fill="#00ff00"/>
<rect x="338" y="591" width="3" height="1" fill="#00ff00"/>
<rect x="354" y="592" width="3" height="1" fill="#00ff00"/>
<rect x="362" y="592" width="3" height="2" fill="#00ff00"/>
<rect x="370" y="592" width="3" height="2" fill="#00ff00"/>
<rect x="378" y="592" width="3" height="4" fill="#00ff00"/>
<rect x="386" y="592" width="3" height="10" fill="#00ff00"/>
<rect x="394" y="592" width="3" height="15" fill="#00ff00"/>
<rect x="402" y="592" width="3" height="18" fill="#00ff00"/>
<rect x="410" y="592" width="3" height="21" fill="#00ff00"/>
<rect x="418" y="592" width="3" height="24" fill="#00ff00"/>
<rect x="426" y="592" width="3" height="32" fill="#00ff00"/>
<rect x="434" y="592" width="3" height="38" fill="#00ff00"/>
<rect x="442" y="592" width="3" height="45" fill="#00ff00"/>
<rect x="450" y="592" width="3" height="51" fill="#00ff00"/>
<rect x="458" y="592" width="3" height="57" fill="#00ff00"/>
<rect x="466" y="592" width="3" height="62" fill="#00ff00"/>
<rect x="474" y="592" width="3" height="67" fill="#00ff00"/>
<rect x="482" y="592" width="3" height="71" fill="#00ff00"/>
<rect x="490" y="592" width="3" height="74" fill="#00ff00"/>
<rect x="498" y="592" width="3" height="73" fill="#00ff00"/>
<rect x="506" y="592" width="3" height="71" fill="#00ff00"/>
<rect x="514" y="592" width="3" height="72" fill="#00ff00"/>
<rect x="522" y="592" width="3" height="71" fill="#00ff00"/>
<rect x="530" y="592" width="3" height="71" fill="#00ff00"/>
<rect x="538" y="592" width="3" height="68" fill="#00ff00"/>
<rect x="546" y="592" width="3" height="66" fill="#00ff00"/>
<rect x="554" y="592" width="3" height="63" fill="#00ff00"/>
<rect x="562" y="592" width="3" height="59" fill="#00ff00"/>
<rect x="570" y="592" width="3" height="56" fill="#00ff00"/>
<rect x="578" y="592" width="3" height="51" fill="#00ff00"/>
<rect x="586" y="592" width="3" height="45" fill="#00ff00"/>
<rect x="594" y="592" width="3" height="41" fill="#00ff00"/>
<rect x="602" y="592" width="3" height="42" fill="#00ff00"/>
<rect x="610" y="592" width="3" height="44" fill="#00ff00"/>
<rect x="618" y="592" width="3" height="46" fill="#00ff00"/>
<rect x="626" y="592" width="3" height="48" fill="#00ff00"/>
<rect x="634" y="592" width="3" height="49" fill="#00ff00"/>
<rect x="642" y="592" width="3" height="48" fill="#00ff00"/>
<rect x="650" y="592" width="3" height="47" fill="#00ff00"/>
<rect x="658" y="592" width="3" height="45" fill="#00ff00"/>
<rect x="666" y="592" width="3" height="45" fill="#00ff00"/>
<rect x="674" y="592" width="3" height="45" fill="#00ff00"/>
<rect x="682" y="592" width="3" height="41" fill="#00ff00"/>
<rect x="690" y="592" width="3" height="39" fill="#00ff00"/>
<rect x="698" y="592" width="3" height="37" fill="#00ff00"/>
<rect x="706" y="592" width="3" height="34" fill="#00ff00"/>
<rect x="714" y="592" width="3" height="30" fill="#00ff00"/>
<rect x="722" y="592" width="3" height="28" fill="#00ff00"/>
<rect x="730" y="592" width="3" height="25" fill="#00ff00"/>
<rect x="738" y="592" width="3" height="22" fill="#00ff00"/>
<rect x="746" y="592" width="3" height="18" fill="#00ff00"/>
<rect x="754" y="592" width="3" height="16" fill="#00ff00"/>
<rect x="762" y="592" width="3" height="12" fill="#00ff00"/>
<rect x="770" y="592" width="3" height="9" fill="#00ff00"/>
<rect x="778" y="592" width="3" height="6" fill="#00ff00"/>
<rect x="786" y="592" width="3" height="6" fill="#00ff00"/>
<rect x="794" y="592" width="3" height="8" fill="#00ff00"/>
<rect x="802" y="592" width="3" height="9" fill="#00ff00"/>
<rect x="810" y="592" width="3" height="6" fill="#00ff00"/>
<rect x="818" y="592" width="3" height="4" fill="#00ff00"/>
<rect x="826" y="592" width="3" height="3" fill="#00ff00"/>
<rect x="834" y="592" width="3" height="2" fill="#00ff00"/>
<rect x="842" y="592" width="3" height="2" fill="#00ff00"/>
<rect x="850" y="590" width="3" height="2" fill="#00ff00"/>
<rect x="858" y="589" width="3" height="3" fill="#00ff00"/>
<rect x="866" y="586" width="3" height="6" fill="#00ff00"/>
<rect x="874" y="585" width="3" height="7" fill="#00ff00"/>
<rect x="882" y="582" width="3" height="10" fill="#00ff00"/>
<rect x="890" y="580" width="3" height="12" fill="#00ff00"/>
<rect x="898" y="578" width="3" height="14" fill="#00ff00"/>
<rect x="906" y="572" width="3" height="20" fill="#00ff00"/>
<rect x="914" y="566" width="3" height="26" fill="#00ff00"/>
<rect x="922" y="563" width="3" height="29" fill="#00ff00"/>
<rect x="930" y="559" width="3" height="33" fill="#00ff00"/>
<rect x="938" y="556" width="3" height="36" fill="#00ff00"/>
<rect x="946" y="554" width="3" height="38" fill="#00ff00"/>
<rect x="954" y="554" width="3" height="38" fill="#00ff00"/>
<rect x="962" y="555" width="3" height="37" fill="#00ff00"/>
<rect x="970" y="556" width="3" height="36" fill="#00ff00"/>
<rect x="978" y="558" width="3" height="34" fill="#00ff00"/>
<rect x="986" y="559" width="3" height="33" fill="#00ff00"/>
<rect x="994" y="559" width="3" height="33" fill="#00ff00"/>
<rect x="1002" y="564" width="3" height="28" fill="#00ff00"/>
<rect x="1010" y="571" width="3" height="21" fill="#00ff00"/>
<rect x="1018" y="576" width="3" height="16" fill="#00ff00"/>
<rect x="1026" y="580" width="3" height="12" fill="#00ff00"/>
<rect x="1034" y="583" width="3" height="9" fill="#00ff00"/>
<rect x="1042" y="586" width="3" height="6" fill="#00ff00"/>
<rect x="1050" y="589" width="3" height="3" fill="#00ff00"/>
<rect x="1058" y="591" width="3" height="1" fill="#00ff00"/>
<rect x="1066" y="592" width="3" height="2" fill="#00ff00"/>
<rect x="1074" y="592" width="3" height="4" fill="#00ff00"/>
<rect x="1082" y="592" width="3" height="7" fill="#00ff00"/>
<rect x="1090" y="592" width="3" height="11" fill="#00ff00"/>
<rect x="1098" y="592" width="3" height="11" fill="#00ff00"/>
<rect x="1106" y="592" width="3" height="12" fill="#00ff00"/>
<rect x="1114" y="592" width="3" height="13" fill="#00ff00"/>
<rect x="1122" y="592" width="3" height="15" fill="#00ff00"/>
<rect x="1130" y="592" width="3" height="17" fill="#00ff00"/>
<rect x="1138" y="592" width="3" height="17" fill="#00ff00"/>
<rect x="1146" y="592" width="3" height="17" fill="#00ff00"/>
<rect x="1154" y="592" width="3" height="12" fill="#00ff00"/>
<rect x="1162" y="592" width="3" height="11" fill="#00ff00"/>
<rect x="1170" y="592" width="3" height="10" fill="#00ff00"/>
<rect x="1178" y="592" width="3" height="9" fill="#00ff00"/>
<rect x="1186" y="592" width="3" height="8" fill="#00ff00"/>
<rect x="1194" y="592" width="3" height="6" fill="#00ff00"/>
<rect x="1202" y="592" width="3" height="5" fill="#00ff00"/>
<rect x="1210" y="592" width="3" height="2" fill="#00ff00"/>
<rect x="1218" y="592" width="3" height="1" fill="#00ff00"/>
<rect x="1226" y="591" width="3" height="1" fill="#00ff00"/>
<rect x="1234" y="592" width="3" height="1" fill="#00ff00"/>
<rect x="1242" y="592" width="3" height="2" fill="#00ff00"/>
<rect x="1250" y="592" width="3" height="2" fill="#00ff00"/>
<rect x="1258" y="592" width="3" height="1" fill="#00ff00"/>
<rect x="1266" y="591" width="3" height="1" fill="#00ff00"/>
</g>
<polyline points="0.0,556.0 3.5,554.3 11.5,551.3 19.5,549.3 27.5,548.7 35.5,548.7 43.5,549.7 51.5,551.3 59.5,553.7 67.5,555.7 75.5,557.7 83.5,560.7 91.5,563.7 99.5,566.7 107.5,569.7 115.5,572.7 123.5,574.7 131.5,577.7 139.5,579.7 147.5,581.3 155.5,581.7 163.5,581.7 171.5,581.7 179.5,581.7 187.5,581.7 195.5,581.7 203.5,581.7 211.5,582.7 219.5,584.0 227.5,584.0 235.5,584.3 243.5,586.7 251.5,587.7 259.5,589.0 267.5,589.0 275.5,589.0 276.5,590.0 283.5,590.0 284.5,591.0 307.5,591.0 308.2,592.0 331.5,592.0 332.3,591.0 347.5,591.0 349.0,590.0 371.5,590.0 372.3,591.0 379.5,591.0 387.5,592.0 395.5,594.0 403.5,597.7 411.5,599.3 419.5,602.3 427.5,605.3 435.5,609.0 443.5,614.3 451.5,619.3 459.5,624.3 467.5,630.7 475.5,636.0 483.5,642.0 491.5,646.7 499.5,651.7 507.5,654.7 515.5,657.3 523.5,660.7 531.5,661.3 531.5,661.7 555.5,661.7 563.5,659.7 571.5,657.7 579.5,655.3 587.5,652.7 595.5,650.0 603.5,646.3 611.5,643.3 619.5,641.3 627.5,639.3 635.5,638.0 643.5,637.3 651.5,636.7 691.5,636.7 699.5,635.7 707.5,633.3 715.5,631.3 723.5,629.7 731.5,627.7 739.5,624.7 747.5,621.7 755.5,619.7 763.5,617.0 771.5,613.7 779.5,609.3 787.5,607.7 795.5,605.7 795.5,604.7 803.5,602.7 811.5,600.7 819.5,599.7 827.5,598.0 835.5,597.0 843.5,596.0 851.5,595.0 859.5,594.3 867.5,593.3 875.5,591.3 883.5,590.3 891.5,588.3 899.5,586.3 907.5,584.7 915.5,581.7 923.5,578.7 931.5,575.7 939.5,571.7 947.5,568.7 955.5,565.7 963.5,562.7 971.5,560.3 979.5,558.3 987.5,557.3 995.5,557.0 1003.5,557.3 1011.5,559.7 1019.5,561.3 1027.5,564.3 1035.5,567.3 1043.5,571.0 1051.5,574.3 1059.5,578.0 1059.5,578.0 1067.5,581.3 1075.5,584.7 1083.5,588.0 1091.5,591.0 1099.5,593.0 1107.5,595.0 1115.5,597.0 1123.5,599.3 1131.5,601.7 1139.5,603.7 1147.5,604.7 1155.5,604.7 1163.5,604.7 1171.5,604.7 1179.5,604.7 1187.5,604.7 1195.5,603.3 1203.5,602.3 1211.5,600.0 1219.5,598.3 1227.5,597.3 1235.5,596.3 1243.5,595.3 1251.5,594.3 1259.5,594.0 1267.5,594.0" fill="none" stroke="#ff0000" stroke-width="2" stroke-linejoin="round" shape-rendering="crispEdges"/>
<g shape-rendering="crispEdges">
<line x1="0" y1="698.5" x2="1592" y2="698.5" stroke="#000" stroke-width="1" stroke-dasharray="3 3" stroke-dashoffset="4"/>
<line x1="0" y1="733.5" x2="1592" y2="733.5" stroke="#000" stroke-width="1" stroke-dasharray="3 3" stroke-dashoffset="4"/>
<line x1="0" y1="773.5" x2="1592" y2="773.5" stroke="#000" stroke-width="1" stroke-dasharray="3 3" stroke-dashoffset="4"/>
</g>
<polyline points="-4.5,703 3.5,703.3 11.5,705.3 19.5,710.7 27.5,719.7 35.5,719.7 43.5,717.7 51.5,723.7 59.5,720.0 67.5,720.0 75.5,722.0 83.5,722.0 91.5,741.0 99.5,736.0 107.5,738.0 115.5,734.3 123.5,732.3 131.5,729.0 139.5,728.7 147.5,715.7 155.5,715.7 163.5,717.3 171.5,721.3 179.5,728.3 187.5,737.0 195.5,737.0 203.5,737.0 211.5,731.3 219.5,726.0 227.5,726.0 235.5,729.0 243.5,735.0 251.5,735.0 259.5,740.0 267.5,740.0 275.5,743.0 283.5,733.0 291.5,723.7 299.5,727.7 307.5,728.7 315.5,728.7 323.5,727.0 331.5,727.0 339.5,737.0 347.5,737.0 355.5,737.0 363.5,737.0 371.5,733.7 379.5,742.7 387.5,757.0 395.5,754.0 403.5,754.0 411.5,756.0 419.5,756.0 427.5,767.7 435.5,768.3 443.5,770.3 451.5,771.3 459.5,773.7 467.5,774.7 475.5,775.7 483.5,777.0 491.5,772.0 499.5,767.3 507.5,762.7 515.5,765.7 523.5,766.7 531.5,766.7 539.5,761.3 547.5,761.0 555.5,759.7 563.5,754.0 571.5,753.7 579.5,748.3 587.5,741.0 595.5,742.0 603.5,756.7 611.5,757.0 619.5,760.7 627.5,761.0 635.5,761.0 643.5,756.3 651.5,753.0 659.5,753.0 667.5,757.0 675.5,754.7 683.5,746.0 691.5,748.0 699.5,747.7 707.5,743.3 715.5,740.0 723.5,740.0 731.5,740.0 739.5,734.3 747.5,733.0 755.5,736.0 763.5,727.3 771.5,725.7 779.5,726.0 787.5,736.0 795.5,744.0 803.5,739.0 811.5,728.0 819.5,728.0 827.5,732.0 835.5,731.0 843.5,733.0 851.5,723.0 859.5,728.0 867.5,723.0 875.5,725.0 883.5,720.0 891.5,718.7 899.5,718.0 907.5,709.0 915.5,706.7 923.5,711.0 931.5,708.3 939.5,706.7 947.5,709.3 955.5,712.3 963.5,717.0 971.5,717.0 979.5,719.0 987.5,715.7 995.5,715.7 1003.5,732.7 1011.5,738.0 1019.5,738.0 1027.5,737.0 1035.5,739.0 1043.5,737.0 1051.5,738.7 1059.5,739.7 1067.5,740.7 1075.5,741.0 1083.5,748.3 1091.5,751.3 1099.5,741.0 1107.5,742.0 1115.5,742.0 1123.5,749.0 1131.5,748.7 1139.5,745.3 1147.5,745.0 1155.5,728.7 1163.5,732.7 1171.5,735.0 1179.5,735.0 1187.5,731.0 1195.5,732.0 1203.5,732.0 1211.5,723.7 1219.5,726.7 1227.5,728.0 1235.5,738.0 1243.5,744.0 1251.5,728.0 1259.5,728.0 1267.5,728.0" fill="none" stroke="#1e90ff" stroke-width="2" stroke-linejoin="round" shape-rendering="crispEdges"/>
<g shape-rendering="crispEdges">
<rect x="0" y="22" width="1593" height="1" fill="#000"/>
<rect x="1592" y="22" width="1" height="515" fill="#000"/>
<rect x="1592" y="538" width="1" height="133" fill="#000"/>
<rect x="1592" y="673" width="1" height="119" fill="#000"/>
<rect x="0" y="536" width="1593" height="1" fill="#000"/>
<rect x="0" y="538" width="1593" height="1" fill="#000"/>
<rect x="0" y="671" width="1593" height="1" fill="#000"/>
<rect x="0" y="673" width="1593" height="1" fill="#000"/>
<rect x="0" y="791" width="1593" height="1" fill="#000"/>
</g>
<g shape-rendering="crispEdges">
<rect x="0" y="273" width="1594" height="2" fill="#ff0000"/>
<rect x="1586" y="271" width="6" height="6" fill="#ff0000"/>
<rect x="1588" y="273" width="2" height="2" fill="#fff"/>
<rect x="0" y="307" width="1594" height="2" fill="#ff0000"/>
<rect x="1586" y="305" width="6" height="6" fill="#ff0000"/>
<rect x="1588" y="307" width="2" height="2" fill="#fff"/>
<rect x="0" y="344" width="1594" height="2" fill="#ff8c00"/>
<rect x="1586" y="342" width="6" height="6" fill="#ff8c00"/>
<rect x="1588" y="344" width="2" height="2" fill="#fff"/>
<rect x="0" y="392" width="1594" height="2" fill="#0000ff"/>
<rect x="1586" y="390" width="6" height="6" fill="#0000ff"/>
<rect x="1588" y="392" width="2" height="2" fill="#fff"/>
<rect x="0" y="427" width="1594" height="2" fill="#0000ff"/>
<rect x="1586" y="425" width="6" height="6" fill="#0000ff"/>
<rect x="1588" y="427" width="2" height="2" fill="#fff"/>
</g>
<rect x="1265" y="355" width="5" height="1" fill="#00ff00" shape-rendering="crispEdges"/>
<g style="font-family:'Liberation Sans','Noto Sans CJK SC',sans-serif">
<text x="10" y="33.6" font-size="10.5" fill="#000" stroke="#000" stroke-width="0.25" textLength="212" lengthAdjust="spacingAndGlyphs">SP500-,H4&#160;&#160;3833.150 3833.150 3833.150 3833.150</text>
<text x="0" y="551" font-size="10.5" fill="#000" stroke="#000" stroke-width="0.25" textLength="130" lengthAdjust="spacingAndGlyphs">MACD(12,26,9) 2.3273 -0.5274</text>
<text x="0" y="686" font-size="10.5" fill="#000" stroke="#000" stroke-width="0.25" textLength="67" lengthAdjust="spacingAndGlyphs">RSI(14) 53.9765</text>
</g>
<path d="M-3,29 L6,29 L1.5,33.5 Z" fill="#000"/>
<path d="M1265,22 L1277,22 L1271,28 Z" fill="#000"/>
<g shape-rendering="crispEdges">
<rect x="1593" y="38" width="2" height="1" fill="#000"/>
<rect x="1593" y="71" width="2" height="1" fill="#000"/>
<rect x="1593" y="104" width="2" height="1" fill="#000"/>
<rect x="1593" y="137" width="2" height="1" fill="#000"/>
<rect x="1593" y="170" width="2" height="1" fill="#000"/>
<rect x="1593" y="203" width="2" height="1" fill="#000"/>
<rect x="1593" y="236" width="2" height="1" fill="#000"/>
<rect x="1593" y="269" width="2" height="1" fill="#000"/>
<rect x="1593" y="302" width="2" height="1" fill="#000"/>
<rect x="1593" y="335" width="2" height="1" fill="#000"/>
<rect x="1593" y="368" width="2" height="1" fill="#000"/>
<rect x="1593" y="401" width="2" height="1" fill="#000"/>
<rect x="1593" y="434" width="2" height="1" fill="#000"/>
<rect x="1593" y="467" width="2" height="1" fill="#000"/>
<rect x="1593" y="500" width="2" height="1" fill="#000"/>
<rect x="1593" y="533" width="2" height="1" fill="#000"/>
<rect x="1593" y="540" width="1" height="1" fill="#000"/>
<rect x="1593" y="592" width="1" height="1" fill="#000"/>
<rect x="1593" y="668" width="1" height="1" fill="#000"/>
</g>
<g style="font-family:'Liberation Sans','Noto Sans CJK SC',sans-serif">
<text x="1597.5" y="42" font-size="10.5" fill="#000" stroke="#000" stroke-width="0.25" textLength="39" lengthAdjust="spacingAndGlyphs">4199.790</text>
<text x="1597.5" y="75" font-size="10.5" fill="#000" stroke="#000" stroke-width="0.25" textLength="39" lengthAdjust="spacingAndGlyphs">4160.860</text>
<text x="1597.5" y="108" font-size="10.5" fill="#000" stroke="#000" stroke-width="0.25" textLength="39" lengthAdjust="spacingAndGlyphs">4123.075</text>
<text x="1597.5" y="141" font-size="10.5" fill="#000" stroke="#000" stroke-width="0.25" textLength="39" lengthAdjust="spacingAndGlyphs">4085.290</text>
<text x="1597.5" y="174" font-size="10.5" fill="#000" stroke="#000" stroke-width="0.25" textLength="39" lengthAdjust="spacingAndGlyphs">4046.360</text>
<text x="1597.5" y="207" font-size="10.5" fill="#000" stroke="#000" stroke-width="0.25" textLength="39" lengthAdjust="spacingAndGlyphs">4008.575</text>
<text x="1597.5" y="240" font-size="10.5" fill="#000" stroke="#000" stroke-width="0.25" textLength="39" lengthAdjust="spacingAndGlyphs">3970.790</text>
<text x="1597.5" y="273" font-size="10.5" fill="#000" stroke="#000" stroke-width="0.25" textLength="39" lengthAdjust="spacingAndGlyphs">3933.005</text>
<text x="1597.5" y="306" font-size="10.5" fill="#000" stroke="#000" stroke-width="0.25" textLength="39" lengthAdjust="spacingAndGlyphs">3894.075</text>
<text x="1597.5" y="339" font-size="10.5" fill="#000" stroke="#000" stroke-width="0.25" textLength="39" lengthAdjust="spacingAndGlyphs">3856.290</text>
<text x="1597.5" y="372" font-size="10.5" fill="#000" stroke="#000" stroke-width="0.25" textLength="39" lengthAdjust="spacingAndGlyphs">3818.505</text>
<text x="1597.5" y="405" font-size="10.5" fill="#000" stroke="#000" stroke-width="0.25" textLength="39" lengthAdjust="spacingAndGlyphs">3780.720</text>
<text x="1597.5" y="438" font-size="10.5" fill="#000" stroke="#000" stroke-width="0.25" textLength="39" lengthAdjust="spacingAndGlyphs">3741.790</text>
<text x="1597.5" y="471" font-size="10.5" fill="#000" stroke="#000" stroke-width="0.25" textLength="39" lengthAdjust="spacingAndGlyphs">3704.005</text>
<text x="1597.5" y="504" font-size="10.5" fill="#000" stroke="#000" stroke-width="0.25" textLength="39" lengthAdjust="spacingAndGlyphs">3666.220</text>
<text x="1597.5" y="537" font-size="10.5" fill="#000" stroke="#000" stroke-width="0.25" textLength="39" lengthAdjust="spacingAndGlyphs">3628.435</text>
<g shape-rendering="crispEdges">
<rect x="1594" y="268" width="46" height="11" fill="#ff0000"/>
<rect x="1594" y="302" width="46" height="11" fill="#ff0000"/>
<rect x="1594" y="339" width="46" height="11" fill="#ff8c00"/>
<rect x="1594" y="350" width="46" height="11" fill="#000"/>
<rect x="1594" y="387" width="46" height="11" fill="#0000ff"/>
<rect x="1594" y="422" width="46" height="11" fill="#0000ff"/>
</g>
<text x="1597.5" y="277" font-size="10.5" fill="#fff" stroke="#fff" stroke-width="0.25" textLength="39" lengthAdjust="spacingAndGlyphs">3926.695</text>
<text x="1597.5" y="311" font-size="10.5" fill="#fff" stroke="#fff" stroke-width="0.25" textLength="39" lengthAdjust="spacingAndGlyphs">3887.762</text>
<text x="1597.5" y="348" font-size="10.5" fill="#fff" stroke="#fff" stroke-width="0.25" textLength="39" lengthAdjust="spacingAndGlyphs">3845.290</text>
<text x="1597.5" y="359" font-size="10.5" fill="#fff" stroke="#fff" stroke-width="0.25" textLength="39" lengthAdjust="spacingAndGlyphs">3833.150</text>
<text x="1597.5" y="396" font-size="10.5" fill="#fff" stroke="#fff" stroke-width="0.25" textLength="39" lengthAdjust="spacingAndGlyphs">3789.840</text>
<text x="1597.5" y="431" font-size="10.5" fill="#fff" stroke="#fff" stroke-width="0.25" textLength="39" lengthAdjust="spacingAndGlyphs">3748.547</text>
<text x="1595.5" y="549" font-size="10.5" fill="#000" stroke="#000" stroke-width="0.25" textLength="34" lengthAdjust="spacingAndGlyphs">66.8576</text>
<text x="1595.5" y="596" font-size="10.5" fill="#000" stroke="#000" stroke-width="0.25" textLength="18.5" lengthAdjust="spacingAndGlyphs">0.00</text>
<text x="1595.5" y="668" font-size="10.5" fill="#000" stroke="#000" stroke-width="0.25" textLength="32" lengthAdjust="spacingAndGlyphs">-98.733</text>
<text x="1595.5" y="684" font-size="10.5" fill="#000" stroke="#000" stroke-width="0.25" textLength="15.5" lengthAdjust="spacingAndGlyphs">100</text>
<text x="1595.5" y="702" font-size="10.5" fill="#000" stroke="#000" stroke-width="0.25" textLength="10" lengthAdjust="spacingAndGlyphs">80</text>
<text x="1595.5" y="737" font-size="10.5" fill="#000" stroke="#000" stroke-width="0.25" textLength="10" lengthAdjust="spacingAndGlyphs">50</text>
<text x="1595.5" y="777" font-size="10.5" fill="#000" stroke="#000" stroke-width="0.25" textLength="10" lengthAdjust="spacingAndGlyphs">15</text>
<text x="1595.5" y="788" font-size="10.5" fill="#000" stroke="#000" stroke-width="0.25" textLength="5" lengthAdjust="spacingAndGlyphs">0</text>
</g>
<g shape-rendering="crispEdges">
<rect x="59" y="792" width="1" height="3" fill="#000"/>
<rect x="123" y="792" width="1" height="3" fill="#000"/>
<rect x="187" y="792" width="1" height="3" fill="#000"/>
<rect x="251" y="792" width="1" height="3" fill="#000"/>
<rect x="315" y="792" width="1" height="3" fill="#000"/>
<rect x="379" y="792" width="1" height="3" fill="#000"/>
<rect x="443" y="792" width="1" height="3" fill="#000"/>
<rect x="507" y="792" width="1" height="3" fill="#000"/>
<rect x="571" y="792" width="1" height="3" fill="#000"/>
<rect x="635" y="792" width="1" height="3" fill="#000"/>
<rect x="699" y="792" width="1" height="3" fill="#000"/>
<rect x="763" y="792" width="1" height="3" fill="#000"/>
<rect x="827" y="792" width="1" height="3" fill="#000"/>
<rect x="891" y="792" width="1" height="3" fill="#000"/>
<rect x="955" y="792" width="1" height="3" fill="#000"/>
<rect x="1019" y="792" width="1" height="3" fill="#000"/>
<rect x="1083" y="792" width="1" height="3" fill="#000"/>
<rect x="1147" y="792" width="1" height="3" fill="#000"/>
<rect x="1211" y="792" width="1" height="3" fill="#000"/>
</g>
<g style="font-family:'Liberation Sans','Noto Sans CJK SC',sans-serif">
<text x="-5.5" y="804.6" font-size="10.5" fill="#000" stroke="#000" stroke-width="0.25" textLength="53.9" lengthAdjust="spacingAndGlyphs">30 May 2022</text>
<text x="58.5" y="804.6" font-size="10.5" fill="#000" stroke="#000" stroke-width="0.25" textLength="56.5" lengthAdjust="spacingAndGlyphs">31 May 20:00</text>
<text x="122.5" y="804.6" font-size="10.5" fill="#000" stroke="#000" stroke-width="0.25" textLength="48.7" lengthAdjust="spacingAndGlyphs">2 Jun 04:00</text>
<text x="186.5" y="804.6" font-size="10.5" fill="#000" stroke="#000" stroke-width="0.25" textLength="48.7" lengthAdjust="spacingAndGlyphs">3 Jun 12:00</text>
<text x="250.5" y="804.6" font-size="10.5" fill="#000" stroke="#000" stroke-width="0.25" textLength="48.7" lengthAdjust="spacingAndGlyphs">6 Jun 20:00</text>
<text x="314.5" y="804.6" font-size="10.5" fill="#000" stroke="#000" stroke-width="0.25" textLength="48.7" lengthAdjust="spacingAndGlyphs">8 Jun 04:00</text>
<text x="378.5" y="804.6" font-size="10.5" fill="#000" stroke="#000" stroke-width="0.25" textLength="48.7" lengthAdjust="spacingAndGlyphs">9 Jun 12:00</text>
<text x="442.5" y="804.6" font-size="10.5" fill="#000" stroke="#000" stroke-width="0.25" textLength="53.9" lengthAdjust="spacingAndGlyphs">12 Jun 23:00</text>
<text x="506.5" y="804.6" font-size="10.5" fill="#000" stroke="#000" stroke-width="0.25" textLength="53.9" lengthAdjust="spacingAndGlyphs">14 Jun 04:00</text>
<text x="570.5" y="804.6" font-size="10.5" fill="#000" stroke="#000" stroke-width="0.25" textLength="53.9" lengthAdjust="spacingAndGlyphs">15 Jun 12:00</text>
<text x="634.5" y="804.6" font-size="10.5" fill="#000" stroke="#000" stroke-width="0.25" textLength="53.9" lengthAdjust="spacingAndGlyphs">16 Jun 20:00</text>
<text x="698.5" y="804.6" font-size="10.5" fill="#000" stroke="#000" stroke-width="0.25" textLength="53.9" lengthAdjust="spacingAndGlyphs">20 Jun 04:00</text>
<text x="762.5" y="804.6" font-size="10.5" fill="#000" stroke="#000" stroke-width="0.25" textLength="53.9" lengthAdjust="spacingAndGlyphs">21 Jun 12:00</text>
<text x="826.5" y="804.6" font-size="10.5" fill="#000" stroke="#000" stroke-width="0.25" textLength="53.9" lengthAdjust="spacingAndGlyphs">22 Jun 20:00</text>
<text x="890.5" y="804.6" font-size="10.5" fill="#000" stroke="#000" stroke-width="0.25" textLength="53.9" lengthAdjust="spacingAndGlyphs">24 Jun 04:00</text>
<text x="954.5" y="804.6" font-size="10.5" fill="#000" stroke="#000" stroke-width="0.25" textLength="53.9" lengthAdjust="spacingAndGlyphs">27 Jun 12:00</text>
<text x="1018.5" y="804.6" font-size="10.5" fill="#000" stroke="#000" stroke-width="0.25" textLength="53.9" lengthAdjust="spacingAndGlyphs">28 Jun 20:00</text>
<text x="1082.5" y="804.6" font-size="10.5" fill="#000" stroke="#000" stroke-width="0.25" textLength="53.9" lengthAdjust="spacingAndGlyphs">30 Jun 04:00</text>
<text x="1146.5" y="804.6" font-size="10.5" fill="#000" stroke="#000" stroke-width="0.25" textLength="45.6" lengthAdjust="spacingAndGlyphs">1 Jul 12:00</text>
<text x="1210.5" y="804.6" font-size="10.5" fill="#000" stroke="#000" stroke-width="0.25" textLength="45.6" lengthAdjust="spacingAndGlyphs">4 Jul 22:00</text>
</g>
<g id="toolbar">
<g shape-rendering="crispEdges">
<rect x="0" y="0" width="1644" height="17" fill="#f0f0f0"/>
<rect x="0" y="17" width="1644" height="1" fill="#e3e3e3"/>
<rect x="0" y="18" width="1644" height="1" fill="#a0a0a0"/>
<rect x="0" y="19" width="1644" height="1" fill="#696969"/>
<rect x="0" y="20" width="1644" height="2" fill="#fff"/>
<rect x="1643" y="20" width="1" height="784" fill="#e8e8e8"/>
<rect x="28" y="0" width="1" height="17" fill="#a0a0a0"/>
<rect x="0" y="16" width="29" height="1" fill="#a0a0a0"/>
<rect x="233" y="0" width="24" height="16" fill="#f9f9f9"/>
<rect x="385" y="0" width="24" height="16" fill="#f9f9f9"/>
<rect x="413" y="0" width="24" height="16" fill="#f9f9f9"/>
<rect x="573" y="0" width="24" height="16" fill="#f9f9f9"/>
<rect x="1019" y="0" width="24" height="16" fill="#f9f9f9"/>
<rect x="232" y="0" width="1" height="16" fill="#a0a0a0"/>
<rect x="289" y="0" width="1" height="16" fill="#a0a0a0"/>
<rect x="379" y="0" width="1" height="16" fill="#a0a0a0"/>
<rect x="384" y="0" width="1" height="16" fill="#a0a0a0"/>
<rect x="412" y="0" width="1" height="16" fill="#a0a0a0"/>
<rect x="441" y="0" width="1" height="16" fill="#a0a0a0"/>
<rect x="572" y="0" width="1" height="16" fill="#a0a0a0"/>
<rect x="629" y="0" width="1" height="16" fill="#a0a0a0"/>
<rect x="1018" y="0" width="1" height="16" fill="#a0a0a0"/>
<rect x="194" y="0" width="1" height="18" fill="#a0a0a0"/>
<rect x="195" y="0" width="1" height="18" fill="#fff"/>
<rect x="562" y="0" width="1" height="18" fill="#a0a0a0"/>
<rect x="563" y="0" width="1" height="18" fill="#fff"/>
<rect x="868" y="0" width="1" height="18" fill="#a0a0a0"/>
<rect x="869" y="0" width="1" height="18" fill="#fff"/>
<rect x="1129" y="0" width="1" height="18" fill="#a0a0a0"/>
<rect x="1130" y="0" width="1" height="18" fill="#fff"/>
<rect x="198" y="0" width="3" height="1" fill="#a8a8a8"/>
<rect x="198" y="2" width="3" height="1" fill="#a8a8a8"/>
<rect x="198" y="4" width="3" height="1" fill="#a8a8a8"/>
<rect x="198" y="6" width="3" height="1" fill="#a8a8a8"/>
<rect x="198" y="8" width="3" height="1" fill="#a8a8a8"/>
<rect x="198" y="10" width="3" height="1" fill="#a8a8a8"/>
<rect x="198" y="12" width="3" height="1" fill="#a8a8a8"/>
<rect x="198" y="14" width="3" height="1" fill="#a8a8a8"/>
<rect x="566" y="0" width="3" height="1" fill="#a8a8a8"/>
<rect x="566" y="2" width="3" height="1" fill="#a8a8a8"/>
<rect x="566" y="4" width="3" height="1" fill="#a8a8a8"/>
<rect x="566" y="6" width="3" height="1" fill="#a8a8a8"/>
<rect x="566" y="8" width="3" height="1" fill="#a8a8a8"/>
<rect x="566" y="10" width="3" height="1" fill="#a8a8a8"/>
<rect x="566" y="12" width="3" height="1" fill="#a8a8a8"/>
<rect x="566" y="14" width="3" height="1" fill="#a8a8a8"/>
<rect x="872" y="0" width="3" height="1" fill="#a8a8a8"/>
<rect x="872" y="2" width="3" height="1" fill="#a8a8a8"/>
<rect x="872" y="4" width="3" height="1" fill="#a8a8a8"/>
<rect x="872" y="6" width="3" height="1" fill="#a8a8a8"/>
<rect x="872" y="8" width="3" height="1" fill="#a8a8a8"/>
<rect x="872" y="10" width="3" height="1" fill="#a8a8a8"/>
<rect x="872" y="12" width="3" height="1" fill="#a8a8a8"/>
<rect x="872" y="14" width="3" height="1" fill="#a8a8a8"/>
<rect x="212" y="0" width="1" height="14" fill="#505050"/>
<rect x="210" y="11" width="13" height="1" fill="#505050"/>
<rect x="240" y="0" width="1" height="14" fill="#505050"/>
<rect x="238" y="11" width="13" height="1" fill="#505050"/>
<rect x="268" y="0" width="1" height="14" fill="#505050"/>
<rect x="266" y="11" width="13" height="1" fill="#505050"/>
<rect x="392" y="0" width="1" height="14" fill="#505050"/>
<rect x="390" y="11" width="13" height="1" fill="#505050"/>
<rect x="420" y="0" width="1" height="14" fill="#505050"/>
<rect x="418" y="11" width="13" height="1" fill="#505050"/>
</g>
<path d="M222,9.5 L224.5,11.5 L222,13.5 Z" fill="#505050"/>
<path d="M250,9.5 L252.5,11.5 L250,13.5 Z" fill="#505050"/>
<path d="M278,9.5 L280.5,11.5 L278,13.5 Z" fill="#505050"/>
<path d="M402,9.5 L404.5,11.5 L402,13.5 Z" fill="#505050"/>
<path d="M430,9.5 L432.5,11.5 L430,13.5 Z" fill="#505050"/>
<text x="-3.5" y="8.4"  font-size="13" fill="#000" stroke="#000" stroke-width="0.3" style="font-family:'Liberation Sans','Noto Sans CJK SC',sans-serif" textLength="25.5" lengthAdjust="spacingAndGlyphs">订单</text>
<path d="M35.6,8.3 L40.4,-1.5 L50.4,5.8 L50.4,7.8 L44,13.8 L35.6,9.6 Z" fill="#b47a12" stroke="#b47a12" stroke-width="1" stroke-linejoin="round"/>
<path d="M36.4,7.8 L41,-1.5 L49.8,5.4 L44.2,11.8 Z" fill="#e6b422" stroke="#e6b422" stroke-width="0.8" stroke-linejoin="round"/>
<path d="M39,7 L42.2,0.8 L47.4,5 L43.8,9.4 Z" fill="#f4d050"/>
<path d="M36.6,9.4 L43.9,12.9 L49.8,7" fill="none" stroke="#f2dc98" stroke-width="0.9"/>
<rect x="65" y="-1" width="11" height="8" fill="#2196f3"/>
<rect x="67" y="-1" width="1" height="8" fill="#e8f4ff"/>
<rect x="69" y="2.5" width="6" height="1.2" fill="#a8d4ff"/>
<path d="M65.5,13.6 C62.2,13.6 62.4,9.2 65.6,9.4 C66,6.8 68.6,6.2 70,7.6 C71.6,5.6 75.2,6.4 75.4,9 C79.6,8.4 80.2,13.6 76.5,13.6 Z" fill="#e6ecf8" stroke="#4a68ae" stroke-width="1"/>
<path d="M98.9,-2.1 A7.5,7.5 0 0 1 100,12.8 L98.9,5.4 Z" fill="#d4ead4"/>
<path d="M98.9,-2.1 A7.5,7.5 0 0 0 96.5,12.5 L98.9,5.4 Z" fill="#e2e9f8"/>
<g fill="none" stroke-width="1.1">
<path d="M98.9,1 A4.4,4.4 0 0 0 98.9,9.8" stroke="#4a78d8"/>
<path d="M98.9,-2.1 A7.5,7.5 0 0 0 96.2,12.4" stroke="#7c9ee6"/>
<path d="M98.9,1 A4.4,4.4 0 0 1 98.9,9.8" stroke="#6fae6f"/>
<path d="M98.9,-2.1 A7.5,7.5 0 0 1 100,12.8" stroke="#7cbc7c"/>
</g>
<path d="M99.6,13 A7.5,7.5 0 0 0 104,10.6" fill="none" stroke="#2aa42a" stroke-width="1.6"/>
<circle cx="98.9" cy="5.3" r="1.7" fill="#2c55c8"/>
<rect x="98.6" y="6" width="1.4" height="7.8" fill="#1ea01e"/>
<path d="M119.3,4.6 L133.6,4.6 L128.4,13.6 L124.6,11.6 Z" fill="#f4cc36" stroke="#c89a14" stroke-width="0.8"/>
<ellipse cx="126.3" cy="3" rx="8.1" ry="2.2" fill="#3a9ad8"/>
<ellipse cx="126.3" cy="0.4" rx="4.9" ry="2.8" fill="#56aee6"/>
<circle cx="130.4" cy="9.7" r="4" fill="#e02810"/>
<rect x="129" y="8.3" width="2.9" height="2.9" fill="#fff"/>
<text x="139.6" y="9"  font-size="13" fill="#000" stroke="#000" stroke-width="0.3" style="font-family:'Liberation Sans','Noto Sans CJK SC',sans-serif" textLength="46.5" lengthAdjust="spacingAndGlyphs">自动交易</text>
<path d="M218.5,1.5 L218.5,9.5 M218.5,2.5 L221.5,2.5 M215.5,8.5 L218.5,8.5" stroke="#109010" stroke-width="1.4" fill="none"/>
<rect x="244.5" y="-1" width="4" height="8.4" fill="#30e030" stroke="#10a010" stroke-width="1"/>
<rect x="246" y="7.5" width="1.2" height="2.5" fill="#109010"/>
<path d="M267,8.8 C269.5,6.5 271,3.2 273,3.4 C275,3.6 276.5,6.5 278.7,7" stroke="#209020" stroke-width="1.3" fill="none"/>
<path d="M307.8,8.4 L313,12.8" stroke="#d8b020" stroke-width="2.6" stroke-linecap="round"/>
<path d="M307.8,8.4 L313,12.8" stroke="#8a6a10" stroke-width="0.6" fill="none" transform="translate(0.9,-0.9)"/>
<circle cx="304" cy="3.9" r="5.4" fill="#d6ecff" stroke="#2a63d2" stroke-width="1.2"/>
<rect x="301" y="3.2" width="6" height="1.5" fill="#3f7fb4"/>
<rect x="303.25" y="0.9" width="1.5" height="6" fill="#3f7fb4"/>
<path d="M335.8,8.4 L341,12.8" stroke="#d8b020" stroke-width="2.6" stroke-linecap="round"/>
<path d="M335.8,8.4 L341,12.8" stroke="#8a6a10" stroke-width="0.6" fill="none" transform="translate(0.9,-0.9)"/>
<circle cx="332" cy="3.9" r="5.4" fill="#d6ecff" stroke="#2a63d2" stroke-width="1.2"/>
<rect x="329" y="3.2" width="6" height="1.5" fill="#3f7fb4"/>
<rect x="354" y="-1" width="8" height="7.2" fill="#3aa21e"/>
<rect x="355.2" y="1.4" width="5.6" height="3.4" fill="#f4f8ff"/>
<rect x="362.5" y="-1" width="8" height="7.2" fill="#1f4fd0"/>
<rect x="363.7" y="1.4" width="5.6" height="3.4" fill="#f4f8ff"/>
<rect x="354" y="6.8" width="8" height="7.2" fill="#1f4fd0"/>
<rect x="355.2" y="9.2" width="5.6" height="3.4" fill="#f4f8ff"/>
<rect x="362.5" y="6.8" width="8" height="7.2" fill="#3aa21e"/>
<rect x="363.7" y="9.2" width="5.6" height="3.4" fill="#f4f8ff"/>
<path d="M397,2 L397,8.8 L401,5.4 Z" fill="#28c828" stroke="#109010" stroke-width="0.8"/>
<rect x="426" y="0" width="1" height="10" fill="#1c6ea8"/>
<path d="M427.5,5.4 L432,5.4 M427.5,5.4 L430,3.2 M427.5,5.4 L430,7.6" stroke="#d84010" stroke-width="1.1" fill="none"/>
<path d="M451.5,-1 L451.5,11.5 L462.5,11.5 L462.5,1.5 L460,-1 Z" fill="#fff" stroke="#909090" stroke-width="1"/>
<path d="M459,4.5 L463,4.5 L463,8 L466.6,8 L466.6,12 L463,12 L463,15.6 L459,15.6 L459,12 L455.2,12 L455.2,8 L459,8 Z" fill="#2fd62f" stroke="#12901a" stroke-width="0.8"/>
<path d="M472.8,5 L478.2,5 L475.5,8 Z" fill="#000"/>
<path d="M511.9,5 L517.3,5 L514.5999999999999,8 Z" fill="#000"/>
<path d="M550.7,5 L556.3,5 L553.5,8 Z" fill="#000"/>
<path d="M857,5.4 L862.3,5.4 L859.65,8.4 Z" fill="#000"/>
<circle cx="496.9" cy="5.7" r="6.6" fill="#f4f6fa" stroke="#1766d4" stroke-width="2.2"/>
<path d="M496.9,2 L496.9,5.7 L499.8,5.7" stroke="#303030" stroke-width="1" fill="none"/>
<rect x="528.5" y="-1" width="15" height="13.2" fill="#fff" stroke="#2a6cc8" stroke-width="1"/>
<rect x="529" y="-1" width="14" height="2.6" fill="#4a8ad8"/>
<rect x="529" y="6.6" width="14" height="1" fill="#2a6cc8"/>
<path d="M530,5.4 L533,4.2 L535.5,3.4 L538,4.6 L542,3.2" stroke="#b02000" stroke-width="1.1" fill="none"/>
<path d="M530.5,10.6 L533.5,9.6 L536,10.4 L539,8.4 L542,10.6" stroke="#109020" stroke-width="1.1" fill="none"/>
<path d="M580.2,-2 L580.2,9.7 L582.8,7.4 L585.4,12.8 L586.9,12 L584.4,6.8 L587.9,6.4 Z" fill="#505050"/>
<g shape-rendering="crispEdges" fill="#505050">
<rect x="612" y="0" width="1" height="5"/><rect x="612" y="8" width="1" height="6"/>
<rect x="605" y="6" width="6" height="1"/><rect x="614" y="6" width="6" height="1"/><rect x="612" y="6" width="1" height="1"/>
<rect x="646" y="0" width="1" height="13"/>
<rect x="669" y="6" width="12" height="1"/>
</g>
<path d="M697,12.7 L709,1" stroke="#505050" stroke-width="1.1"/>
<path d="M723.5,8 L733,-1 M725.5,12.5 L738,0.5 M724.5,10 L735.5,-0.5 M726,11 L727.5,5.5 M728.3,9.5 L729.8,4 M730.6,7.5 L732.1,2 M733,5.5 L734.5,0" stroke="#404040" stroke-width="1" fill="none"/>
<text x="733.8" y="14.8" font-size="6.5" font-weight="bold" fill="#303030" style="font-family:'Liberation Sans','Noto Sans CJK SC',sans-serif">E</text>
<path d="M752,2.5 L765,2.5 M752,6.5 L765,6.5 M752,10.5 L761,10.5" stroke="#404040" stroke-width="1" stroke-dasharray="1 1" fill="none"/>
<text x="761.5" y="15" font-size="6.5" font-weight="bold" fill="#303030" style="font-family:'Liberation Sans','Noto Sans CJK SC',sans-serif">F</text>
<text x="782" y="11" font-size="12.5" fill="#505050" stroke="#505050" stroke-width="0.4" style="font-family:'Liberation Sans','Noto Sans CJK SC',sans-serif">A</text>
<rect x="809.5" y="-0.5" width="11" height="13" fill="none" stroke="#505050" stroke-width="1" stroke-dasharray="1 1"/>
<text x="810.8" y="11" font-size="11.5" fill="#505050" stroke="#505050" stroke-width="0.4" style="font-family:'Liberation Sans','Noto Sans CJK SC',sans-serif">T</text>
<path d="M839.7,-0.5 L842.8,2.6 L839.7,4.2 L836.6,2.6 Z" fill="#404040"/>
<path d="M846.5,7.2 L849.8,9.6 L846.5,13 L843.2,9.6 Z" fill="#404040"/>
<path d="M838.5,7 L840.5,9 L844.5,4" stroke="#404040" stroke-width="1.1" fill="none"/>
<g style="font-family:'Liberation Sans','Noto Sans CJK SC',sans-serif" font-size="9.4" fill="#303030">
<text x="883.3" y="10" textLength="13" lengthAdjust="spacingAndGlyphs">M1</text>
<text x="911.4" y="10" textLength="13" lengthAdjust="spacingAndGlyphs">M5</text>
<text x="937.4" y="10" textLength="18" lengthAdjust="spacingAndGlyphs">M15</text>
<text x="965.2" y="10" textLength="18.5" lengthAdjust="spacingAndGlyphs">M30</text>
<text x="996.6" y="10" textLength="11.8" lengthAdjust="spacingAndGlyphs">H1</text>
<text x="1023.6" y="10" textLength="12.4" lengthAdjust="spacingAndGlyphs">H4</text>
<text x="1052.4" y="10" textLength="11.8" lengthAdjust="spacingAndGlyphs">D1</text>
<text x="1079.8" y="10" textLength="14.4" lengthAdjust="spacingAndGlyphs">W1</text>
<text x="1106.8" y="10" textLength="14.4" lengthAdjust="spacingAndGlyphs">MN</text>
</g>
<path d="M1596.3,6.6 L1592.2,10.8" stroke="#2460dc" stroke-width="2.4" stroke-linecap="round"/>
<circle cx="1599.5" cy="3.4" r="3.9" fill="#f6f8ff" stroke="#2a66e0" stroke-width="1.3"/>
<path d="M1616.5,8.5 C1616.5,4.5 1620,3.5 1623,3.5 C1627,3.5 1629,6 1629,8.5 C1629,11.5 1626,12.6 1622.5,12.6 L1619.6,14.6 L1620.2,12.3 C1618,11.8 1616.5,10.5 1616.5,8.5 Z" fill="#dfe1ec" stroke="#a4a4a8" stroke-width="0.9"/>
<circle cx="1630.6" cy="3.3" r="8.3" fill="#e0381e"/>
<text x="1626.6" y="8.2" font-size="12.5" font-weight="bold" fill="#fff" style="font-family:'Liberation Serif',serif">1</text>
</g>
</svg></body></html>
